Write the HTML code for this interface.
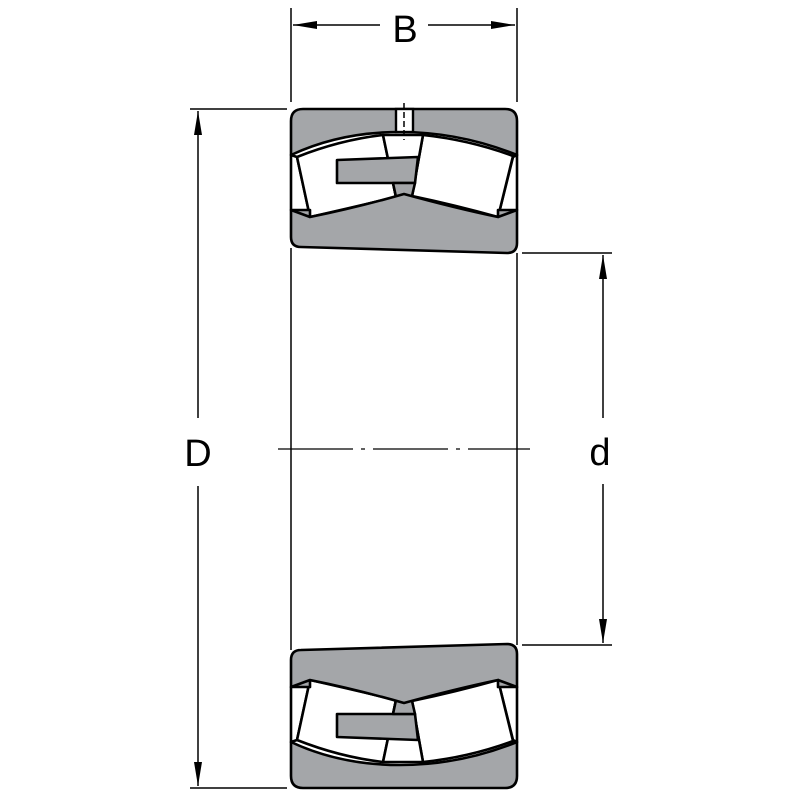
<!DOCTYPE html>
<html><head><style>body{margin:0;background:#fff}svg{display:block}</style></head><body>
<svg width="800" height="800" viewBox="0 0 800 800" xmlns="http://www.w3.org/2000/svg">
<defs>
<marker id="a" viewBox="0 0 24 10" refX="24" refY="5" markerWidth="24" markerHeight="10" orient="auto-start-reverse" markerUnits="userSpaceOnUse"><path d="M0,1L24,5L0,9z" fill="#000"/></marker>
<g id="half" stroke="#000" stroke-width="2.6" stroke-linejoin="round">
<path d="M303,109 H505 Q517,109 517,121 V155 Q460,132 400,132 Q340,132 291,155 V121 Q291,109 303,109Z" fill="#a4a6a9"/>
<path d="M291,155 L297,157 L310,217 Q300,213 291,210Z" fill="#fff"/>
<path d="M517,155 L513,157 L498,217 Q508,213 517,210Z" fill="#fff"/>
<path d="M297,157 Q340,140 383,135 L396,197 Q350,208 310,217Z" fill="#fff"/>
<path d="M423,135 Q470,140 513,156 L498,217 Q455,205 412,196Z" fill="#fff"/>
<path d="M383,135 L423,135 L412,196 L396,197Z" fill="#fff"/>
<path d="M337,160 L418,157 L415,183 L337,183Z" fill="#a4a6a9"/>
<path d="M393,183 L415,183 L412,196 L396,197Z" fill="#a4a6a9"/>
<path d="M291,210 L310,210 L310,217 Q355,208 404,194 Q455,208 498,217 L498,210 L517,210 V243 Q517,253 507,253 L301,247 Q291,247 291,237Z" fill="#a4a6a9"/>
<path d="M291,210 L310,217 M517,210 L498,217" fill="none"/>
</g>
</defs>
<use href="#half"/>
<use href="#half" transform="translate(0,897) scale(1,-1)"/>
<g stroke="#000" stroke-width="2.4">
<rect x="396" y="109" width="17" height="23" fill="#fff"/>
<line x1="404" y1="103" x2="404" y2="140" stroke-dasharray="6,3" stroke-width="1.5"/>
</g>
<g stroke="#000" stroke-width="1.5" fill="none">
<line x1="291" y1="248" x2="291" y2="650"/>
<line x1="517" y1="253" x2="517" y2="645"/>
<line x1="291" y1="8" x2="291" y2="102"/>
<line x1="517" y1="8" x2="517" y2="102"/>
<line x1="293" y1="25" x2="380" y2="25" marker-start="url(#a)"/>
<line x1="428" y1="25" x2="515" y2="25" marker-end="url(#a)"/>
<line x1="190" y1="109" x2="287" y2="109"/>
<line x1="190" y1="788" x2="287" y2="788"/>
<line x1="198" y1="111" x2="198" y2="418" marker-start="url(#a)"/>
<line x1="198" y1="486" x2="198" y2="786" marker-end="url(#a)"/>
<line x1="522" y1="253" x2="612" y2="253"/>
<line x1="522" y1="645" x2="612" y2="645"/>
<line x1="603" y1="255" x2="603" y2="418" marker-start="url(#a)"/>
<line x1="603" y1="484" x2="603" y2="643" marker-end="url(#a)"/>
<line x1="278" y1="449" x2="530" y2="449" stroke-dasharray="75,8,4,8" stroke-width="1.2"/>
</g>
<g font-family="Liberation Sans, sans-serif" font-size="38" text-anchor="middle" fill="#000">
<text x="405" y="42">B</text>
<text x="198" y="466">D</text>
<text x="600" y="465">d</text>
</g>
</svg>
</body></html>
